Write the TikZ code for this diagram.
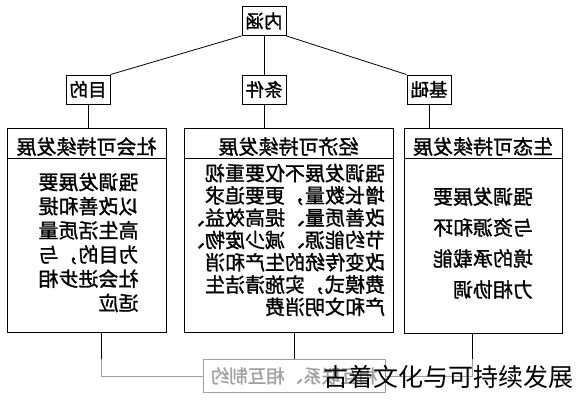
\documentclass[tikz,border=0pt]{standalone}
\usepackage{fontspec}
\usepackage{graphicx}
\newfontfamily\cjk[FakeBold=1.3]{Noto Sans CJK SC}
\newfontfamily\cjkmark{Noto Sans CJK SC}
\usetikzlibrary{positioning}
\newcommand{\fl}[1]{\reflectbox{#1}}
\definecolor{linkgray}{RGB}{160,160,160}
\begin{document}
\begin{tikzpicture}[x=1pt,y=-1pt,
    box/.style={draw,line width=0.9pt,inner sep=0pt},
    tag/.style={box,minimum width=44,minimum height=29,font=\cjk\fontsize{18.5}{18.5}\selectfont},
    bigbox/.style={box,minimum height=204},
    headline/.style={font=\cjk\fontsize{20}{20}\selectfont},
    body/.style={xscale=-1,align=left,inner sep=0pt},
    link/.style={line width=0.8pt}]
    \useasboundingbox (0,0) rectangle (576,400);

    % top row
    \node[tag] (neihan) at (264,21) {\fl{内涵}};
    \node[tag] (mudi) at (88,89.5) {\fl{目的}};
    \node[tag] (tiaojian) at (264,89.5) {\fl{条件}};
    \node[tag] (jichu) at (429,89.5) {\fl{基础}};

    \draw[link] (neihan.south west) -- (mudi.north east);
    \draw[link] (neihan) -- (tiaojian);
    \draw[link] (neihan.south east) -- (jichu.north west);

    % the three boxes
    \node[bigbox,minimum width=159] (shehui) at (86.5,230) {};
    \node[bigbox,minimum width=209] (jingji) at (288.5,230) {};
    \node[bigbox,minimum width=158,minimum height=205] (shengtai) at (483,230.5) {};

    \foreach \b/\t in {shehui/社会可持续发展,jingji/经济可持续发展,shengtai/生态可持续发展}
    {
        \draw[box] ([yshift=-30.5pt]\b.north west) -- ([yshift=-30.5pt]\b.north east);
        \node[headline] (\b-head) at ([yshift=-19pt]\b.north) {\fl{\t}};
    }

    \draw[link] (mudi) -- (mudi |- shehui.north);
    \draw[link] (tiaojian) -- (tiaojian |- jingji.north);
    \draw[link] (jichu) -- (jichu |- shengtai.north);

    \node[body,font=\cjk\fontsize{20}{24.2}\selectfont] (shehui-text) at (88.5,242.5)
        {强调发展要\\以改善和提\\高生活质量\\为目的，与\\社会进步相\\适应};
    \node[body,font=\cjk\fontsize{20}{22.3}\selectfont] (jingji-text) at (285,240)
        {强调发展不仅要重视\\增长数量，更要追求\\改善质量、提高效益、\\节约能源、减少废物、\\改变传统的生产和消\\费模式，实施清洁生\\产和文明消费};
    \node[body,font=\cjk\fontsize{20}{31}\selectfont] (shengtai-text) at (483,243)
        {强调发展要\\与资源和环\\境的承载能\\力相协调};

    % bottom link
    \node[draw=linkgray,line width=0.9pt,minimum width=182,minimum height=33,inner sep=0pt,
        text=linkgray,font=\cjk\fontsize{18.5}{18.5}\selectfont] (lianxi) at (294,376)
        {\fl{相互联系、相互制约}};
    \coordinate (left-end) at (101,359);
    \coordinate (right-end) at (472,359);
    \draw[link] (shehui.south -| left-end) -- (left-end);
    \draw[link] (jingji.south -| lianxi.north) -- (lianxi.north);
    \draw[link] (shengtai.south -| right-end) -- (right-end);
    \draw[link,linkgray] (left-end) |- (lianxi.west);
    \draw[link,linkgray] (right-end) |- (lianxi.east);

    \node[font=\cjkmark\fontsize{25}{25}\selectfont] (mark) at (448,377) {古着文化与可持续发展};
\end{tikzpicture}
\end{document}
